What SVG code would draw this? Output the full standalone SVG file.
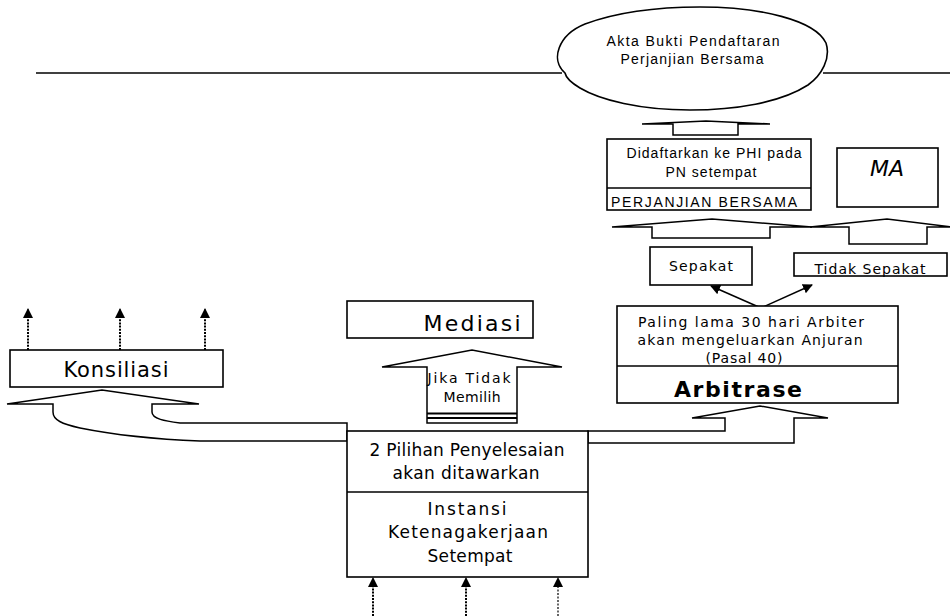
<svg xmlns="http://www.w3.org/2000/svg" width="950" height="616" viewBox="0 0 950 616">
<style>
.box{fill:#fff;stroke:#000;stroke-width:1.6}
.blk{fill:#fff;stroke:#000;stroke-width:1.5;stroke-linejoin:miter}
.ln{fill:none;stroke:#000;stroke-width:1.5}
.ar{font-family:"Liberation Sans",Arial,sans-serif;font-size:14px;fill:#000}
.cm{font-family:"DejaVu Sans","Noto Sans",sans-serif;fill:#000}
.dash{fill:none;stroke:#000;stroke-width:2;stroke-dasharray:2 1.2}
.dot{fill:none;stroke:#000;stroke-width:1.2;stroke-dasharray:2 1.5}
</style>
<defs>
<marker id="ah" viewBox="0 0 10 10" refX="9" refY="5" markerWidth="10" markerHeight="10" markerUnits="userSpaceOnUse" orient="auto">
<path d="M0,0 L10,5 L0,10 Z" fill="#000"/>
</marker>
</defs>
<rect width="950" height="616" fill="#fff"/>

<g id="connectors">
<line class="ln" x1="36" y1="73" x2="562" y2="73"/>
<line class="ln" x1="823" y1="73" x2="950" y2="73"/>
<path class="blk" d="M642,124 L706,121 L770,124 L738,124 L738,135 L673,135 L673,124 Z"/>
<path class="blk" d="M612,227 L712,219 L812,227 L770,227 L770,238 L652,238 L652,227 Z"/>
<path class="blk" d="M810,227 L887,219 L952,227 L927,227 L927,244 L849,244 L849,227 Z"/>
<path class="blk" d="M692,418 L760,406 L828,418 L794,418 L794,443 L588,443 L588,431 L725,431 L725,418 Z"/>
<path class="blk" d="M7,404 L102,390 L199,404 L152,404 L152,412 C152,419 165,421 180,423 L347,423 L347,441 L200,441 C150,439 110,434 80,428 C62,424 53,420 53,412 L53,404 Z"/>
<path class="blk" d="M382,367 L472,350 L562,367 L517,367 L517,423 L427,423 L427,367 Z"/>
<line x1="427" y1="413.5" x2="517" y2="413.5" stroke="#000" stroke-width="2"/>
<line x1="427" y1="418" x2="517" y2="418" stroke="#000" stroke-width="2"/>
<line class="ln" x1="761" y1="308" x2="711" y2="286" marker-end="url(#ah)"/>
<line class="ln" x1="761" y1="308" x2="812" y2="285" marker-end="url(#ah)"/>
<line class="dash" x1="28" y1="350" x2="28" y2="309" marker-end="url(#ah)"/>
<line class="dash" x1="120" y1="350" x2="120" y2="309" marker-end="url(#ah)"/>
<line class="dash" x1="205" y1="350" x2="205" y2="309" marker-end="url(#ah)"/>
<line class="dash" x1="373" y1="616" x2="373" y2="578" marker-end="url(#ah)"/>
<line class="dash" x1="466" y1="616" x2="466" y2="578" marker-end="url(#ah)"/>
<line class="dot" x1="558" y1="616" x2="558" y2="578" marker-end="url(#ah)"/>
</g>

<g id="akta">
<path class="box" d="M565,73 C550,60 558,35 585,24 C620,11 660,7 700,7 C760,7 815,20 826,43 C831,58 822,75 808,85 C780,103 735,110 690,110 C640,110 600,100 580,88 C570,82 566,78 565,73 Z"/>
<text class="ar" x="693" y="46" text-anchor="middle" font-size="15" textLength="173">Akta Bukti Pendaftaran</text>
<text class="ar" x="692" y="64" text-anchor="middle" font-size="15" textLength="143">Perjanjian Bersama</text>
</g>

<g id="perjanjian">
<rect class="box" x="607" y="139" width="204" height="71"/>
<line class="ln" x1="607" y1="188" x2="811" y2="188"/>
<text class="ar" x="714" y="158" text-anchor="middle" textLength="175">Didaftarkan ke PHI pada</text>
<text class="ar" x="711" y="177" text-anchor="middle" textLength="91">PN setempat</text>
<text class="ar" x="704" y="207" text-anchor="middle" font-size="13" textLength="186">PERJANJIAN BERSAMA</text>
</g>

<g id="ma">
<rect class="box" x="837" y="148" width="101" height="59"/>
<text class="cm" x="887" y="176" text-anchor="middle" font-size="22" font-style="italic">MA</text>
</g>

<g id="sepakat">
<rect class="box" x="650" y="247" width="102" height="38"/>
<text class="cm" x="701" y="271" text-anchor="middle" font-size="14" textLength="64">Sepakat</text>
</g>

<g id="tidaksepakat">
<rect class="box" x="794" y="253" width="153" height="23"/>
<text class="cm" x="870" y="274" text-anchor="middle" font-size="14" textLength="111">Tidak Sepakat</text>
</g>

<g id="arbitrase">
<rect class="box" x="617" y="306" width="281" height="97"/>
<line class="ln" x1="617" y1="366" x2="898" y2="366"/>
<text class="cm" x="751" y="327" text-anchor="middle" font-size="14" textLength="226">Paling lama 30 hari Arbiter</text>
<text class="cm" x="750" y="345" text-anchor="middle" font-size="14" textLength="225">akan mengeluarkan Anjuran</text>
<text class="cm" x="744" y="363" text-anchor="middle" font-size="14" textLength="77">(Pasal 40)</text>
<text class="cm" x="738" y="397" text-anchor="middle" font-size="22" font-weight="bold" textLength="128">Arbitrase</text>
</g>

<g id="konsiliasi">
<rect class="box" x="10" y="350" width="213" height="37"/>
<text class="cm" x="116" y="377" text-anchor="middle" font-size="21" textLength="105">Konsiliasi</text>
</g>

<g id="mediasi">
<rect class="box" x="347" y="301" width="186" height="37"/>
<text class="cm" x="472" y="331" text-anchor="middle" font-size="22" textLength="97">Mediasi</text>
<text class="cm" x="469" y="383" text-anchor="middle" font-size="14" textLength="83">Jika Tidak</text>
<text class="cm" x="472" y="402" text-anchor="middle" font-size="14" textLength="57">Memilih</text>
</g>

<g id="instansi">
<rect class="box" x="347" y="431" width="241" height="146"/>
<line class="ln" x1="347" y1="492" x2="588" y2="492"/>
<text class="cm" x="467" y="456" text-anchor="middle" font-size="17" textLength="195">2 Pilihan Penyelesaian</text>
<text class="cm" x="466" y="479" text-anchor="middle" font-size="17" textLength="147">akan ditawarkan</text>
<text class="cm" x="467" y="515" text-anchor="middle" font-size="17" textLength="79">Instansi</text>
<text class="cm" x="468" y="538" text-anchor="middle" font-size="17" textLength="160">Ketenagakerjaan</text>
<text class="cm" x="470" y="562" text-anchor="middle" font-size="17" textLength="85">Setempat</text>
</g>
</svg>
